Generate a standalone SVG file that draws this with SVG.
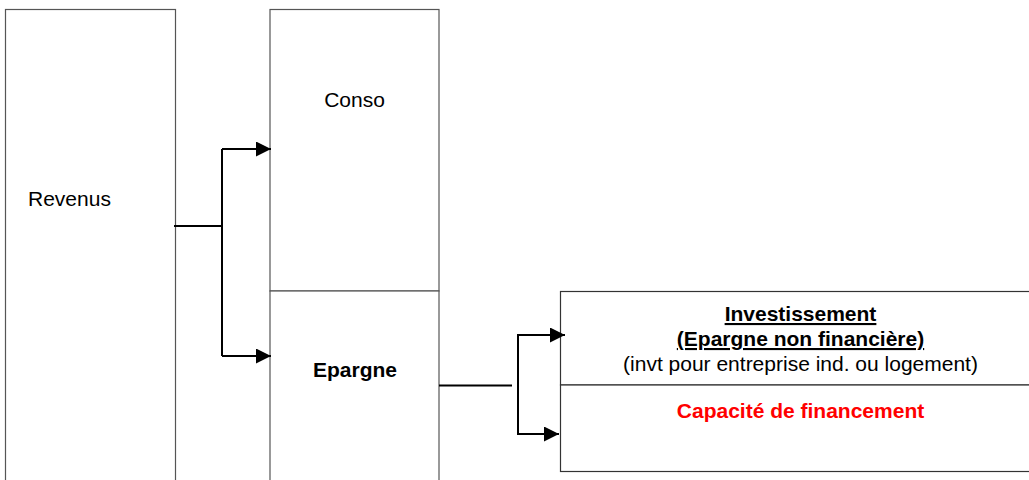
<svg xmlns="http://www.w3.org/2000/svg" width="1029" height="480" viewBox="0 0 1029 480">
<style>
.box{fill:#fff;stroke:#555;stroke-width:1.2}
.box2{fill:#fff;stroke:#333;stroke-width:1.2}
.t{font-family:"Liberation Sans",Arial,sans-serif;font-size:21px;fill:#000}
.b{font-weight:bold}
.c{stroke:#000;stroke-width:2;fill:none}
</style>
<defs>
<marker id="ah" markerUnits="userSpaceOnUse" markerWidth="16" markerHeight="16" refX="15" refY="7.5" orient="auto">
<path d="M0,0 L15,7.5 L0,15 Z" fill="#000"/>
</marker>
</defs>
<rect width="1029" height="480" fill="#fff"/>
<g id="revenus">
<rect class="box" x="5.5" y="9.5" width="170" height="480"/>
<text class="t" x="28" y="206">Revenus</text>
</g>
<g id="conso">
<rect class="box" x="270" y="9.5" width="169" height="281.5"/>
<text class="t" x="354.5" y="107" text-anchor="middle">Conso</text>
</g>
<g id="epargne">
<rect class="box" x="270" y="291" width="169" height="200"/>
<text class="t b" x="355" y="377" text-anchor="middle">Epargne</text>
</g>
<g id="investissement">
<rect class="box2" x="560.5" y="291.5" width="500" height="93.5"/>
<text class="t b" x="800.5" y="321" text-anchor="middle" text-decoration="underline">Investissement</text>
<text class="t b" x="800.5" y="346" text-anchor="middle" text-decoration="underline">(Epargne non financière)</text>
<text class="t" x="800.5" y="371" text-anchor="middle">(invt pour entreprise ind. ou logement)</text>
</g>
<g id="capacite">
<rect class="box2" x="560.5" y="385" width="500" height="86.5"/>
<text class="t b" x="800.5" y="418" text-anchor="middle" fill="#ff0000" style="fill:#ff0000">Capacité de financement</text>
</g>
<g id="connectors">
<path class="c" d="M174,226 H222"/>
<path class="c" d="M222,149 V356"/>
<path class="c" d="M222,149 H271" marker-end="url(#ah)"/>
<path class="c" d="M222,356 H271" marker-end="url(#ah)"/>
<path class="c" d="M439,385.5 H512"/>
<path class="c" d="M518,335 V434"/>
<path class="c" d="M517,335 H565" marker-end="url(#ah)"/>
<path class="c" d="M517,434 H559" marker-end="url(#ah)"/>
</g>
</svg>
